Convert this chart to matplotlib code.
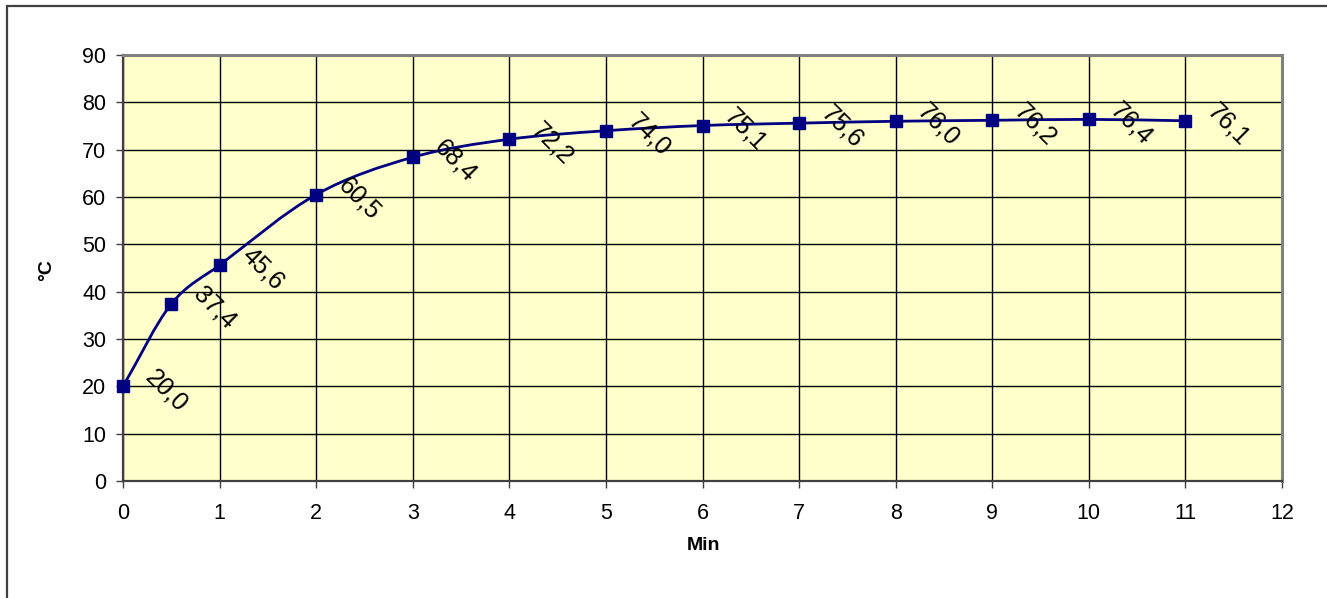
import matplotlib
matplotlib.use("Agg")
import matplotlib.pyplot as plt
from matplotlib.path import Path
from matplotlib.patches import PathPatch, Rectangle

plt.rcParams['font.family'] = ['Liberation Sans', 'DejaVu Sans']

# Heating curve: temperature (°C) against time (min)
minutes = [0, 0.5, 1, 2, 3, 4, 5, 6, 7, 8, 9, 10, 11]
temps = [20.0, 37.4, 45.6, 60.5, 68.4, 72.2, 74.0, 75.1, 75.6, 76.0, 76.2, 76.4, 76.1]
labels = ["20,0", "37,4", "45,6", "60,5", "68,4", "72,2", "74,0",
          "75,1", "75,6", "76,0", "76,2", "76,4", "76,1"]
x_ticks = list(range(0, 13))
y_ticks = list(range(0, 100, 10))

W, H = 1327, 598
fig = plt.figure(figsize=(W / 100, H / 100), dpi=100)
fig.patch.set_facecolor('white')

# outer chart-area frame
fig.patches.append(Rectangle((7 / W, -0.05), 1.2, (H - 6) / H + 0.05,
                             transform=fig.transFigure, fill=False,
                             edgecolor='#404040', linewidth=1.6))

ax = fig.add_axes([123 / W, 1 - 481 / H, (1282 - 123) / W, (481 - 55) / H])
ax.set_facecolor('#FFFFCC')
ax.set_xlim(0, 12)
ax.set_ylim(0, 90)
ax.set_xticks(x_ticks)
ax.set_yticks(y_ticks)
ax.grid(True, color='black', linewidth=1.0)
ax.set_axisbelow(True)

for side in ('top', 'right'):
    ax.spines[side].set_color('#808080')
    ax.spines[side].set_linewidth(2.2)
for side in ('left', 'bottom'):
    ax.spines[side].set_color('#404040')
    ax.spines[side].set_linewidth(1.6)

ax.tick_params(direction='out', length=5, width=1, color='#404040',
               labelsize=15.5)
ax.tick_params(axis='x', pad=11)
ax.tick_params(axis='y', pad=7)

# smoothed line through the points (Hermite tangents as cubic Bezier segments)
n = len(minutes)
tangents = []
for i in range(n):
    a = max(i - 1, 0)
    b = min(i + 1, n - 1)
    tangents.append((temps[b] - temps[a]) / (minutes[b] - minutes[a]))
verts = [(minutes[0], temps[0])]
codes = [Path.MOVETO]
for i in range(n - 1):
    h = minutes[i + 1] - minutes[i]
    c1 = (minutes[i] + h / 3, temps[i] + tangents[i] * h / 3)
    c2 = (minutes[i + 1] - h / 3, temps[i + 1] - tangents[i + 1] * h / 3)
    verts += [c1, c2, (minutes[i + 1], temps[i + 1])]
    codes += [Path.CURVE4] * 3
ax.add_patch(PathPatch(Path(verts, codes), facecolor='none',
                       edgecolor='#000080', linewidth=2, zorder=3))

ax.plot(minutes, temps, linestyle='none', marker='s', markersize=8,
        color='#000080', zorder=4, clip_on=False)

for xv, yv, lab in zip(minutes, temps, labels):
    ax.annotate(lab, (xv, yv), xytext=(43, -4), textcoords='offset pixels',
                rotation=-45, ha='center', va='center', fontsize=18,
                rotation_mode='anchor', zorder=5)

ax.set_xlabel('Min', fontsize=14, fontweight='bold', va='center')
ax.xaxis.set_label_coords(703 / W, 1 - 546 / H, transform=fig.transFigure)
ax.set_ylabel('°C', fontsize=14, fontweight='bold', va='center')
ax.yaxis.set_label_coords(47 / W, 1 - 270 / H, transform=fig.transFigure)

fig.savefig('out.png', dpi=100)
